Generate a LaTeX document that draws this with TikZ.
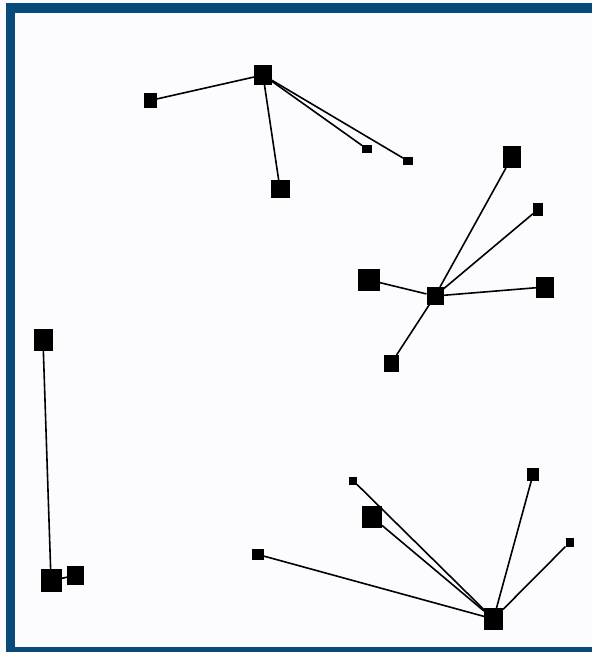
\documentclass[tikz,border=0pt]{standalone}
\begin{document}
\begin{tikzpicture}[x=1pt,y=-1pt,
  sq/.style={rectangle,fill=black,draw=none,inner sep=0pt,outer sep=0pt},
  link/.style={draw=black,line width=1.6pt},
  framepart/.style={fill=framecol}]
\definecolor{framecol}{RGB}{8,74,122}
\definecolor{bgcol}{RGB}{252,252,254}
\useasboundingbox (0,0) rectangle (592,652);
\fill[bgcol] (0,0) rectangle (592,652);
\fill[framepart] (6,3) rectangle (592,13);
\fill[framepart] (6,3) rectangle (15,652);
\fill[framepart] (6,647) rectangle (592,652);
% cluster 1
\node[sq,minimum width=18pt,minimum height=20pt] (A) at (263,75) {};
\node[sq,minimum width=13pt,minimum height=15pt] (B) at (150,100.5) {};
\node[sq,minimum width=19pt,minimum height=18pt] (C) at (280,189) {};
\node[sq,minimum width=10pt,minimum height=8pt] (D) at (367,149) {};
\node[sq,minimum width=10pt,minimum height=8pt] (E) at (408,161) {};
% cluster 2
\node[sq,minimum width=17pt,minimum height=18pt] (F) at (435,296) {};
\node[sq,minimum width=18pt,minimum height=22pt] (G) at (512,157) {};
\node[sq,minimum width=10pt,minimum height=13pt] (H) at (538,209.5) {};
\node[sq,minimum width=22pt,minimum height=22pt] (I) at (369,280) {};
\node[sq,minimum width=18pt,minimum height=21pt] (J) at (545,287) {};
\node[sq,minimum width=15pt,minimum height=17pt] (K) at (391,363.5) {};
% cluster 3
\node[sq,minimum width=19pt,minimum height=22pt] (L) at (43,340) {};
\node[sq,minimum width=21pt,minimum height=23pt] (M) at (51,580.5) {};
\node[sq,minimum width=17pt,minimum height=19pt] (N) at (75.5,575.5) {};
% cluster 4
\node[sq,minimum width=19pt,minimum height=22pt] (O) at (493.5,619) {};
\node[sq,minimum width=8pt,minimum height=8pt] (P) at (353,480.5) {};
\node[sq,minimum width=20pt,minimum height=22pt] (Q) at (372,517) {};
\node[sq,minimum width=12pt,minimum height=11pt] (R) at (258,554.5) {};
\node[sq,minimum width=12pt,minimum height=13pt] (S) at (533,474.5) {};
\node[sq,minimum width=8pt,minimum height=9pt] (T) at (569.5,542.5) {};
% edges
\draw[link] (A) -- (B);
\draw[link] (A) -- (C);
\draw[link] (A) -- (D);
\draw[link] (A) -- (E);
\draw[link] (F) -- (G);
\draw[link] (F) -- (H);
\draw[link] (F) -- (I);
\draw[link] (F) -- (J);
\draw[link] (F) -- (K);
\draw[link] (L) -- (M);
\draw[link] (M) -- (N);
\draw[link] (O) -- (P);
\draw[link] (O) -- (Q);
\draw[link] (O) -- (R);
\draw[link] (O) -- (S);
\draw[link] (O) -- (T);
\end{tikzpicture}
\end{document}
